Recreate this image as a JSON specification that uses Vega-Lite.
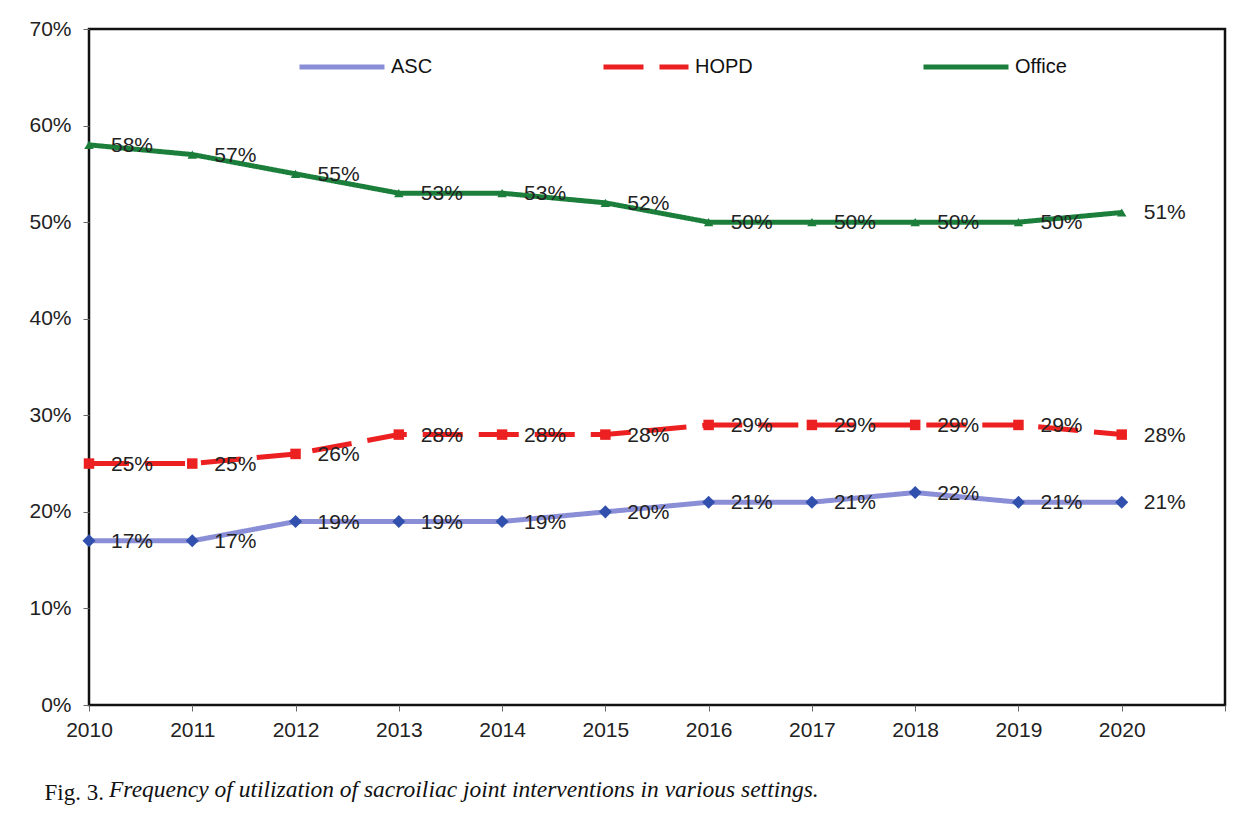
{
  "$schema": "https://vega.github.io/schema/vega-lite/v6.json",
  "width": 1136,
  "height": 676,
  "autosize": {"type": "none"},
  "padding": {"left": 89, "top": 29, "right": 23, "bottom": 126},
  "background": "white",
  "config": {
    "view": {"stroke": "#111", "strokeWidth": 2.5},
    "font": "Liberation Sans"
  },
  "title": {
    "text": "Frequency of utilization of sacroiliac joint interventions in various settings.",
    "orient": "bottom",
    "anchor": "start",
    "frame": "group",
    "font": "Liberation Serif",
    "fontStyle": "italic",
    "fontWeight": "normal",
    "fontSize": 23.5,
    "color": "#111",
    "dx": 20,
    "dy": -30
  },
  "data": {
    "values": [
      {"year": 2010, "series": "ASC", "value": 0.17},
      {"year": 2011, "series": "ASC", "value": 0.17},
      {"year": 2012, "series": "ASC", "value": 0.19},
      {"year": 2013, "series": "ASC", "value": 0.19},
      {"year": 2014, "series": "ASC", "value": 0.19},
      {"year": 2015, "series": "ASC", "value": 0.20},
      {"year": 2016, "series": "ASC", "value": 0.21},
      {"year": 2017, "series": "ASC", "value": 0.21},
      {"year": 2018, "series": "ASC", "value": 0.22},
      {"year": 2019, "series": "ASC", "value": 0.21},
      {"year": 2020, "series": "ASC", "value": 0.21},
      {"year": 2010, "series": "HOPD", "value": 0.25},
      {"year": 2011, "series": "HOPD", "value": 0.25},
      {"year": 2012, "series": "HOPD", "value": 0.26},
      {"year": 2013, "series": "HOPD", "value": 0.28},
      {"year": 2014, "series": "HOPD", "value": 0.28},
      {"year": 2015, "series": "HOPD", "value": 0.28},
      {"year": 2016, "series": "HOPD", "value": 0.29},
      {"year": 2017, "series": "HOPD", "value": 0.29},
      {"year": 2018, "series": "HOPD", "value": 0.29},
      {"year": 2019, "series": "HOPD", "value": 0.29},
      {"year": 2020, "series": "HOPD", "value": 0.28},
      {"year": 2010, "series": "Office", "value": 0.58},
      {"year": 2011, "series": "Office", "value": 0.57},
      {"year": 2012, "series": "Office", "value": 0.55},
      {"year": 2013, "series": "Office", "value": 0.53},
      {"year": 2014, "series": "Office", "value": 0.53},
      {"year": 2015, "series": "Office", "value": 0.52},
      {"year": 2016, "series": "Office", "value": 0.50},
      {"year": 2017, "series": "Office", "value": 0.50},
      {"year": 2018, "series": "Office", "value": 0.50},
      {"year": 2019, "series": "Office", "value": 0.50},
      {"year": 2020, "series": "Office", "value": 0.51}
    ]
  },
  "encoding": {
    "x": {
      "field": "year",
      "type": "quantitative",
      "scale": {"domain": [2010, 2021], "nice": false, "zero": false},
      "axis": {
        "values": [2010, 2011, 2012, 2013, 2014, 2015, 2016, 2017, 2018, 2019, 2020, 2021],
        "labelExpr": "datum.value == 2021 ? '' : '' + datum.value",
        "labelFlush": false,
        "grid": false,
        "domain": false,
        "tickColor": "#666",
        "tickSize": 6,
        "labelPadding": 8,
        "labelFont": "Liberation Sans",
        "labelFontSize": 21,
        "labelColor": "#222",
        "title": "Fig. 3.",
        "titleFont": "Liberation Serif",
        "titleFontWeight": "normal",
        "titleFontSize": 23,
        "titleColor": "#111",
        "titleAlign": "left",
        "titleBaseline": "alphabetic",
        "titleX": -45,
        "titleY": 94
      }
    },
    "y": {
      "field": "value",
      "type": "quantitative",
      "scale": {"domain": [0, 0.7], "nice": false},
      "axis": {
        "values": [0, 0.1, 0.2, 0.3, 0.4, 0.5, 0.6, 0.7],
        "format": ".0%",
        "grid": false,
        "domain": false,
        "tickColor": "#666",
        "tickSize": 6,
        "labelPadding": 12,
        "labelFont": "Liberation Sans",
        "labelFontSize": 21,
        "labelColor": "#222",
        "title": null
      }
    }
  },
  "layer": [
    {
      "mark": {"type": "line", "strokeCap": "butt", "strokeWidth": 5},
      "encoding": {
        "color": {
          "field": "series",
          "type": "nominal",
          "scale": {"domain": ["ASC", "HOPD", "Office"], "range": ["#8a8ed6", "#ec2020", "#1b7f3b"]},
          "legend": {
            "title": null,
            "orient": "none",
            "legendX": 208,
            "legendY": -7,
            "direction": "horizontal",
            "columns": 3,
            "columnPadding": 160,
            "symbolType": "stroke",
            "symbolSize": 7225,
            "symbolStrokeWidth": 5,
            "labelFont": "Liberation Sans",
            "labelFontSize": 20,
            "labelColor": "#111",
            "labelOffset": 4
          }
        },
        "strokeDash": {
          "field": "series",
          "type": "nominal",
          "scale": {"domain": ["ASC", "HOPD", "Office"], "range": [[1, 0], [40, 16], [1, 0]]}
        }
      }
    },
    {
      "transform": [{"filter": "datum.series == 'ASC'"}],
      "mark": {"type": "point", "filled": true, "opacity": 1, "shape": "diamond", "size": 170, "color": "#3150ad"},
      "encoding": {}
    },
    {
      "transform": [{"filter": "datum.series == 'HOPD'"}],
      "mark": {"type": "point", "filled": true, "opacity": 1, "shape": "square", "size": 110, "color": "#ec2020"},
      "encoding": {}
    },
    {
      "transform": [{"filter": "datum.series == 'Office'"}],
      "mark": {"type": "point", "filled": true, "opacity": 1, "shape": "triangle-up", "size": 90, "color": "#1b7f3b"},
      "encoding": {}
    },
    {
      "mark": {"type": "text", "align": "left", "baseline": "middle", "dx": 22, "dy": 1, "fontSize": 21, "font": "Liberation Sans", "color": "#222"},
      "encoding": {
        "text": {"field": "value", "type": "quantitative", "format": ".0%"}
      }
    }
  ]
}
